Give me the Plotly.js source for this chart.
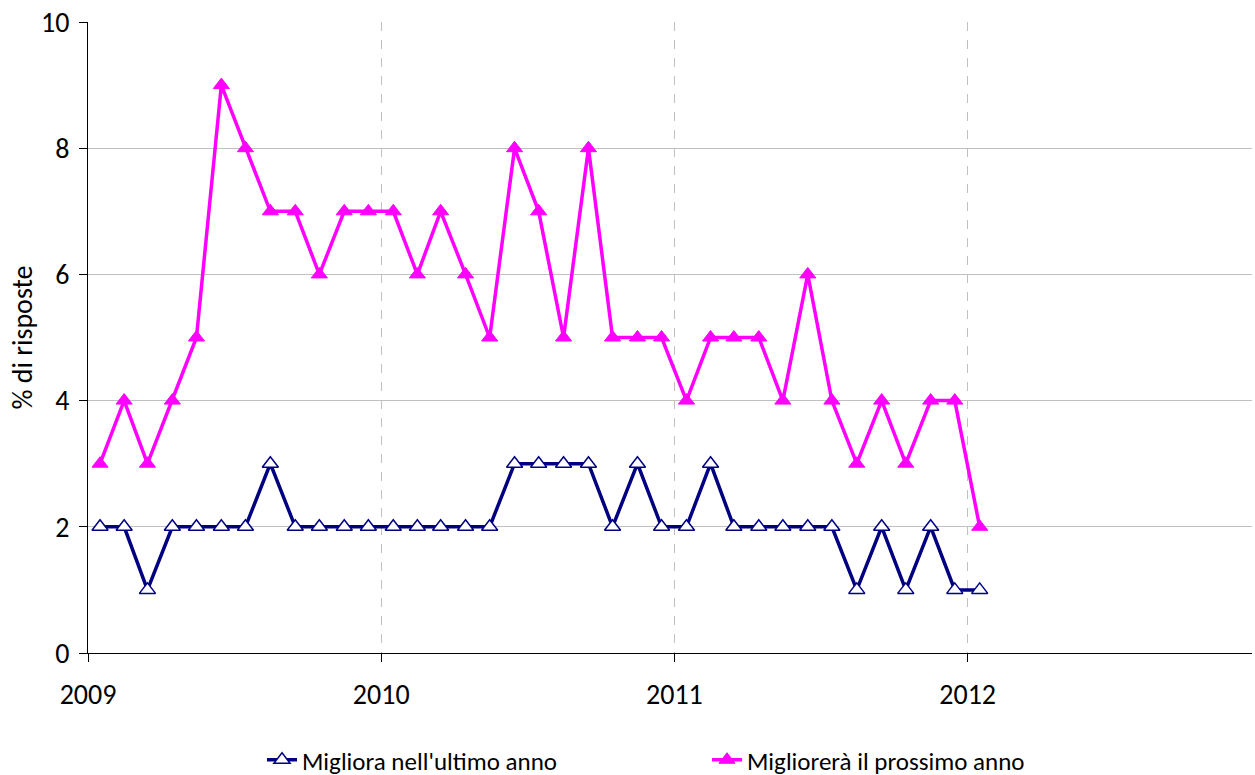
<!DOCTYPE html>
<html>
<head>
<meta charset="utf-8">
<script src="https://cdn.plot.ly/plotly-3.0.1.min.js"></script>
<style>html,body{margin:0;padding:0;background:#fff;}#chart{width:1255px;height:775px;}</style>
</head>
<body>
<div id="chart"></div>
<script>
var months = [
  "2009-01-16","2009-02-15","2009-03-16","2009-04-16","2009-05-16","2009-06-16","2009-07-16","2009-08-16","2009-09-16","2009-10-16","2009-11-16","2009-12-16",
  "2010-01-16","2010-02-15","2010-03-16","2010-04-16","2010-05-16","2010-06-16","2010-07-16","2010-08-16","2010-09-16","2010-10-16","2010-11-16","2010-12-16",
  "2011-01-16","2011-02-15","2011-03-16","2011-04-16","2011-05-16","2011-06-16","2011-07-16","2011-08-16","2011-09-16","2011-10-16","2011-11-16","2011-12-16",
  "2012-01-16"
];
var migliora = [2,2,1,2,2,2,2,3,2,2,2,2, 2,2,2,2,2,3,3,3,3,2,3,2, 2,3,2,2,2,2,2,1,2,1,2,1, 1];
var migliorera = [3,4,3,4,5,9,8,7,7,6,7,7, 7,6,7,6,5,8,7,5,8,5,5,5, 4,5,5,5,4,6,4,3,4,3,4,4, 2];
var yearTicks = ["2009-01-01","2010-01-01","2011-01-01","2012-01-01"];
var yearLabels = ["2009","2010","2011","2012"];
var seriesNames = ["Migliora nell'ultimo anno","Migliorerà il prossimo anno"];

var font = "Carlito, Calibri, Lato, sans-serif";
var traces = [
  {x: months, y: migliora, name: seriesNames[0], type: "scatter", mode: "lines+markers",
   line: {color: "#000080", width: 3.5},
   marker: {symbol: "triangle-up", size: 14, color: "#ffffff", line: {color: "#000080", width: 1.5}}},
  {x: months, y: migliorera, name: seriesNames[1], type: "scatter", mode: "lines+markers",
   line: {color: "#ff00ff", width: 3.5},
   marker: {symbol: "triangle-up", size: 14, color: "#ff00ff", line: {color: "#ff00ff", width: 1}}}
];
var layout = {
  width: 1255, height: 775,
  margin: {l: 88, r: 3, t: 22, b: 122, autoexpand: false},
  paper_bgcolor: "#fff", plot_bgcolor: "#fff",
  font: {family: font, size: 28, color: "#000"},
  showlegend: true,
  legend: {orientation: "h", xref: "container", yref: "container",
           x: 262/1255, xanchor: "left", y: 15/775, yanchor: "middle",
           font: {family: font, size: 25}, entrywidth: 400, entrywidthmode: "pixels",
           traceorder: "normal", bgcolor: "rgba(0,0,0,0)"},
  xaxis: {type: "date", range: ["2009-01-01","2012-12-20"],
          tickmode: "array", tickvals: yearTicks, ticktext: yearLabels,
          ticks: "outside", ticklen: 8, tickcolor: "#000", tickwidth: 1,
          showline: true, linecolor: "#000", linewidth: 1,
          showgrid: true, gridcolor: "#c0c0c0", griddash: "dash", gridwidth: 1,
          zeroline: false, ticklabelstandoff: 8,
          tickfont: {family: font, size: 28}},
  yaxis: {range: [0, 10], tickvals: [0,2,4,6,8,10], ticks: "outside", ticklen: 8,
          tickcolor: "#000", showline: true, linecolor: "#000", linewidth: 1,
          showgrid: true, gridcolor: "#c0c0c0", gridwidth: 1, zeroline: false,
          ticklabelstandoff: 4,
          title: {text: "% di risposte", font: {family: font, size: 28}, standoff: 0},
          tickfont: {family: font, size: 28}}
};
Plotly.newPlot("chart", traces, layout, {displayModeBar: false});
</script>
</body>
</html>
